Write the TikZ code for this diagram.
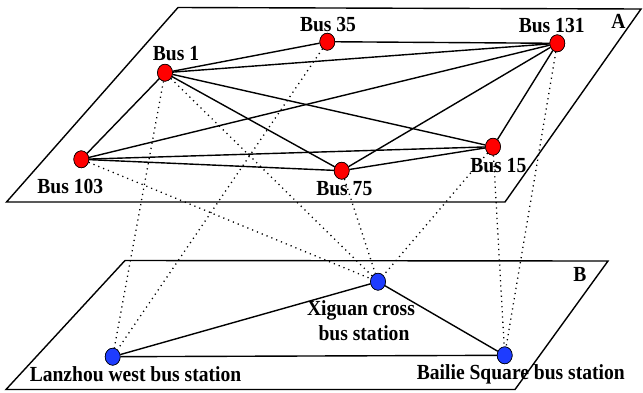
\documentclass[tikz,border=0pt]{standalone}
\usepackage{graphicx}
\usepackage{fontspec}
\setmainfont{Liberation Serif}
\usetikzlibrary{shapes.geometric}
\definecolor{nodered}{RGB}{255,0,0}
\definecolor{nodeblue}{RGB}{30,60,255}
\newcommand{\lbtxt}[1]{\scalebox{0.91}[1]{#1}}
\tikzset{
  plane/.style={draw=black, line width=1.4pt, line join=miter},
  edgeline/.style={draw=black, line width=1.4pt},
  mapline/.style={draw=black, line width=1.3pt, dash pattern=on 1.2pt off 4pt},
  busnode/.style={ellipse, draw=black, line width=0.6pt, fill=nodered, minimum width=15pt, minimum height=17pt, inner sep=0pt},
  stnode/.style={ellipse, draw=black, line width=0.6pt, fill=nodeblue, minimum width=15pt, minimum height=17pt, inner sep=0pt},
  lbl/.style={anchor=base, inner sep=0pt, font=\fontsize{21.5}{25}\selectfont\bfseries}
}
\begin{document}
\begin{tikzpicture}[x=1pt, y=-1pt]
\useasboundingbox (0,0) rectangle (643,392);
% planes
\coordinate (a1) at (178,7.5);
\coordinate (a2) at (641,9);
\coordinate (a3) at (505,202);
\coordinate (a4) at (6.5,202);
\draw[plane] (a1) -- (a2) -- (a3) -- (a4) -- cycle;
\coordinate (b1) at (125,260.5);
\coordinate (b2) at (608,261);
\coordinate (b3) at (515,389.5);
\coordinate (b4) at (6,389.5);
\draw[plane] (b1) -- (b2) -- (b3) -- (b4) -- cycle;
% nodes
\node[busnode] (bus1) at (165,72.7) {};
\node[busnode] (bus35) at (327.3,41.7) {};
\node[busnode] (bus131) at (557.3,43.3) {};
\node[busnode] (bus103) at (81.3,159.3) {};
\node[busnode] (bus75) at (341.7,170.7) {};
\node[busnode] (bus15) at (493,146.7) {};
\node[stnode] (lz) at (112.7,356.7) {};
\node[stnode] (xg) at (378,281.7) {};
\node[stnode] (bl) at (504.7,355.3) {};
% mapping lines
\draw[mapline] (bus1) -- (lz);
\draw[mapline] (bus35) -- (lz);
\draw[mapline] (bus1) -- (xg);
\draw[mapline] (bus103) -- (xg);
\draw[mapline] (bus75) -- (xg);
\draw[mapline] (bus15) -- (xg);
\draw[mapline] (bus15) -- (bl);
\draw[mapline] (bus131) -- (bl);
% edges plane A
\draw[edgeline] (bus1) -- (bus35);
\draw[edgeline] (bus1) -- (bus131);
\draw[edgeline] (bus1) -- (bus15);
\draw[edgeline] (bus1) -- (bus75);
\draw[edgeline] (bus1) -- (bus103);
\draw[edgeline] (bus35) -- (bus131);
\draw[edgeline] (bus131) -- (bus103);
\draw[edgeline] (bus131) -- (bus75);
\draw[edgeline] (bus131) -- (bus15);
\draw[edgeline] (bus103) -- (bus15);
\draw[edgeline] (bus103) -- (bus75);
\draw[edgeline] (bus75) -- (bus15);
% edges plane B
\draw[edgeline] (lz) -- (xg);
\draw[edgeline] (lz) -- (bl);
\draw[edgeline] (xg) -- (bl);
% redraw nodes on top
\node[busnode] at (bus1) {};
\node[busnode] at (bus35) {};
\node[busnode] at (bus131) {};
\node[busnode] at (bus103) {};
\node[busnode] at (bus75) {};
\node[busnode] at (bus15) {};
\node[stnode] at (lz) {};
\node[stnode] at (xg) {};
\node[stnode] at (bl) {};
% labels
\node[lbl] (l1) at (176,60) {\lbtxt{Bus 1}};
\node[lbl] (l35) at (328,31.7) {\lbtxt{Bus 35}};
\node[lbl] (l131) at (551.7,32.7) {\lbtxt{Bus 131}};
\node[lbl] (la) at (618.5,28.3) {\lbtxt{A}};
\node[lbl] (l103) at (70.3,193.3) {\lbtxt{Bus 103}};
\node[lbl] (l75) at (344.3,195) {\lbtxt{Bus 75}};
\node[lbl] (l15) at (498.3,172.3) {\lbtxt{Bus 15}};
\node[lbl] (lb) at (580,281.7) {\lbtxt{B}};
\node[lbl] (lxg1) at (361,315) {\lbtxt{Xiguan cross}};
\node[lbl] (lxg2) at (364,340) {\lbtxt{bus station}};
\node[lbl] (llz) at (135.5,381) {\lbtxt{Lanzhou west bus station}};
\node[lbl] (lbl) at (520.8,379.3) {\lbtxt{Bailie Square bus station}};
\end{tikzpicture}
\end{document}
